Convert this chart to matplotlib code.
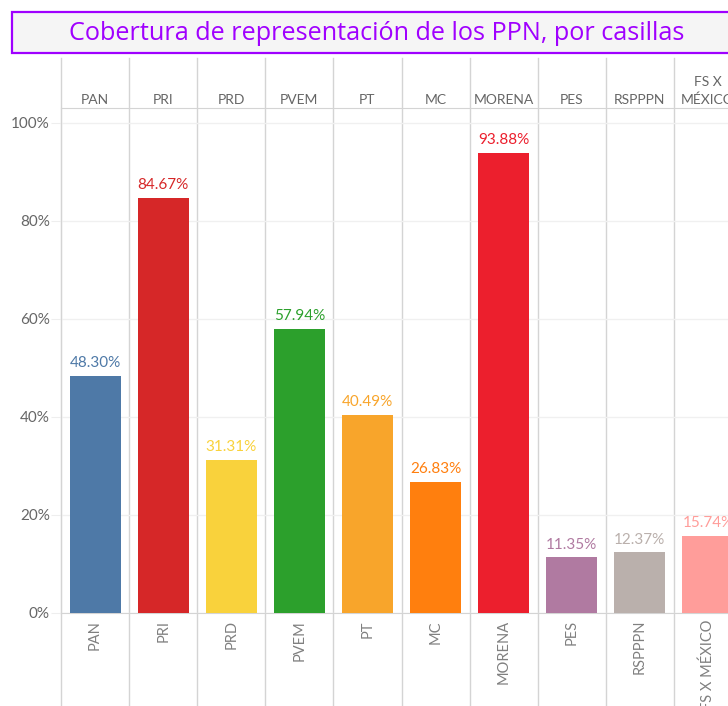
import matplotlib.pyplot as plt
import matplotlib.transforms as mtransforms
from matplotlib.patches import Rectangle

plt.rcParams['font.family'] = ['Lato', 'DejaVu Sans']

# Data
parties = ["PAN", "PRI", "PRD", "PVEM", "PT", "MC", "MORENA", "PES", "RSPPPN", "FS X MÉXICO"]
header_labels = ["PAN", "PRI", "PRD", "PVEM", "PT", "MC", "MORENA", "PES", "RSPPPN", "FS X\nMÉXICO"]
coverage = [48.30, 84.67, 31.31, 57.94, 40.49, 26.83, 93.88, 11.35, 12.37, 15.74]
colors = ["#4e79a7", "#d62728", "#f9d23c", "#2ca02c", "#f8a52b",
          "#ff7f0e", "#ec1f2d", "#b07aa1", "#bab0ac", "#ff9d9a"]
yticks = [0, 20, 40, 60, 80, 100]

W, H = 728, 706
fig = plt.figure(figsize=(W / 100, H / 100), dpi=100)
ax = fig.add_axes([61 / W, (H - 613) / H, (742 - 61) / W, (613 - 108) / H])

x = list(range(len(parties)))
ax.bar(x, coverage, width=0.75, color=colors, zorder=3)
ax.set_xlim(-0.5, len(parties) - 0.5)
ax.set_ylim(0, 100 * 505 / 490)

# value labels
for xi, v, c in zip(x, coverage, colors):
    ax.text(xi, v + 1.2, f"{v:.2f}%", ha="center", va="bottom",
            color=c, fontsize=11, zorder=4)

# y axis
ax.set_yticks(yticks)
ax.set_yticklabels([f"{t}%" for t in yticks], color="#666666", fontsize=11)
ax.tick_params(axis="y", length=7, color="#eeeeee", pad=1)
ax.tick_params(axis="x", length=0, labelbottom=False)
ax.grid(axis="y", color="#f0f0f0", linewidth=1, zorder=0)
for side in ["left", "top", "bottom"]:
    ax.spines[side].set_color("#d4d4d4")
ax.spines["right"].set_visible(False)

# column separators spanning header and footer
trans = mtransforms.blended_transform_factory(ax.transData, fig.transFigure)
for k in range(0, len(parties) + 1):
    ax.plot([k - 0.5, k - 0.5], [0, (H - 58) / H], transform=trans,
            color="#d4d4d4", linewidth=1, clip_on=False, zorder=1)

# header labels
for xi, lab in zip(x, header_labels):
    ax.text(xi, (H - 106) / H, lab, transform=trans, ha="center", va="bottom",
            color="#666666", fontsize=10, linespacing=1.5)

# footer rotated labels
for xi, lab in zip(x, parties):
    ax.text(xi, (H - 620) / H, lab, transform=trans, ha="center", va="top",
            rotation=90, color="#808080", fontsize=10.5)

# title box
fig.patches.append(Rectangle((12 / W, (H - 53) / H), (742 - 12) / W, 41 / H,
                             transform=fig.transFigure, facecolor="#f5f5f5",
                             edgecolor="#9f00ff", linewidth=1.6))
fig.text(377 / W, (H - 33) / H, "Cobertura de representación de los PPN, por casillas",
         ha="center", va="center", color="#a000ff", fontsize=18.2,
         family=["Open Sans", "DejaVu Sans"])

fig.savefig("out.png", dpi=100)
